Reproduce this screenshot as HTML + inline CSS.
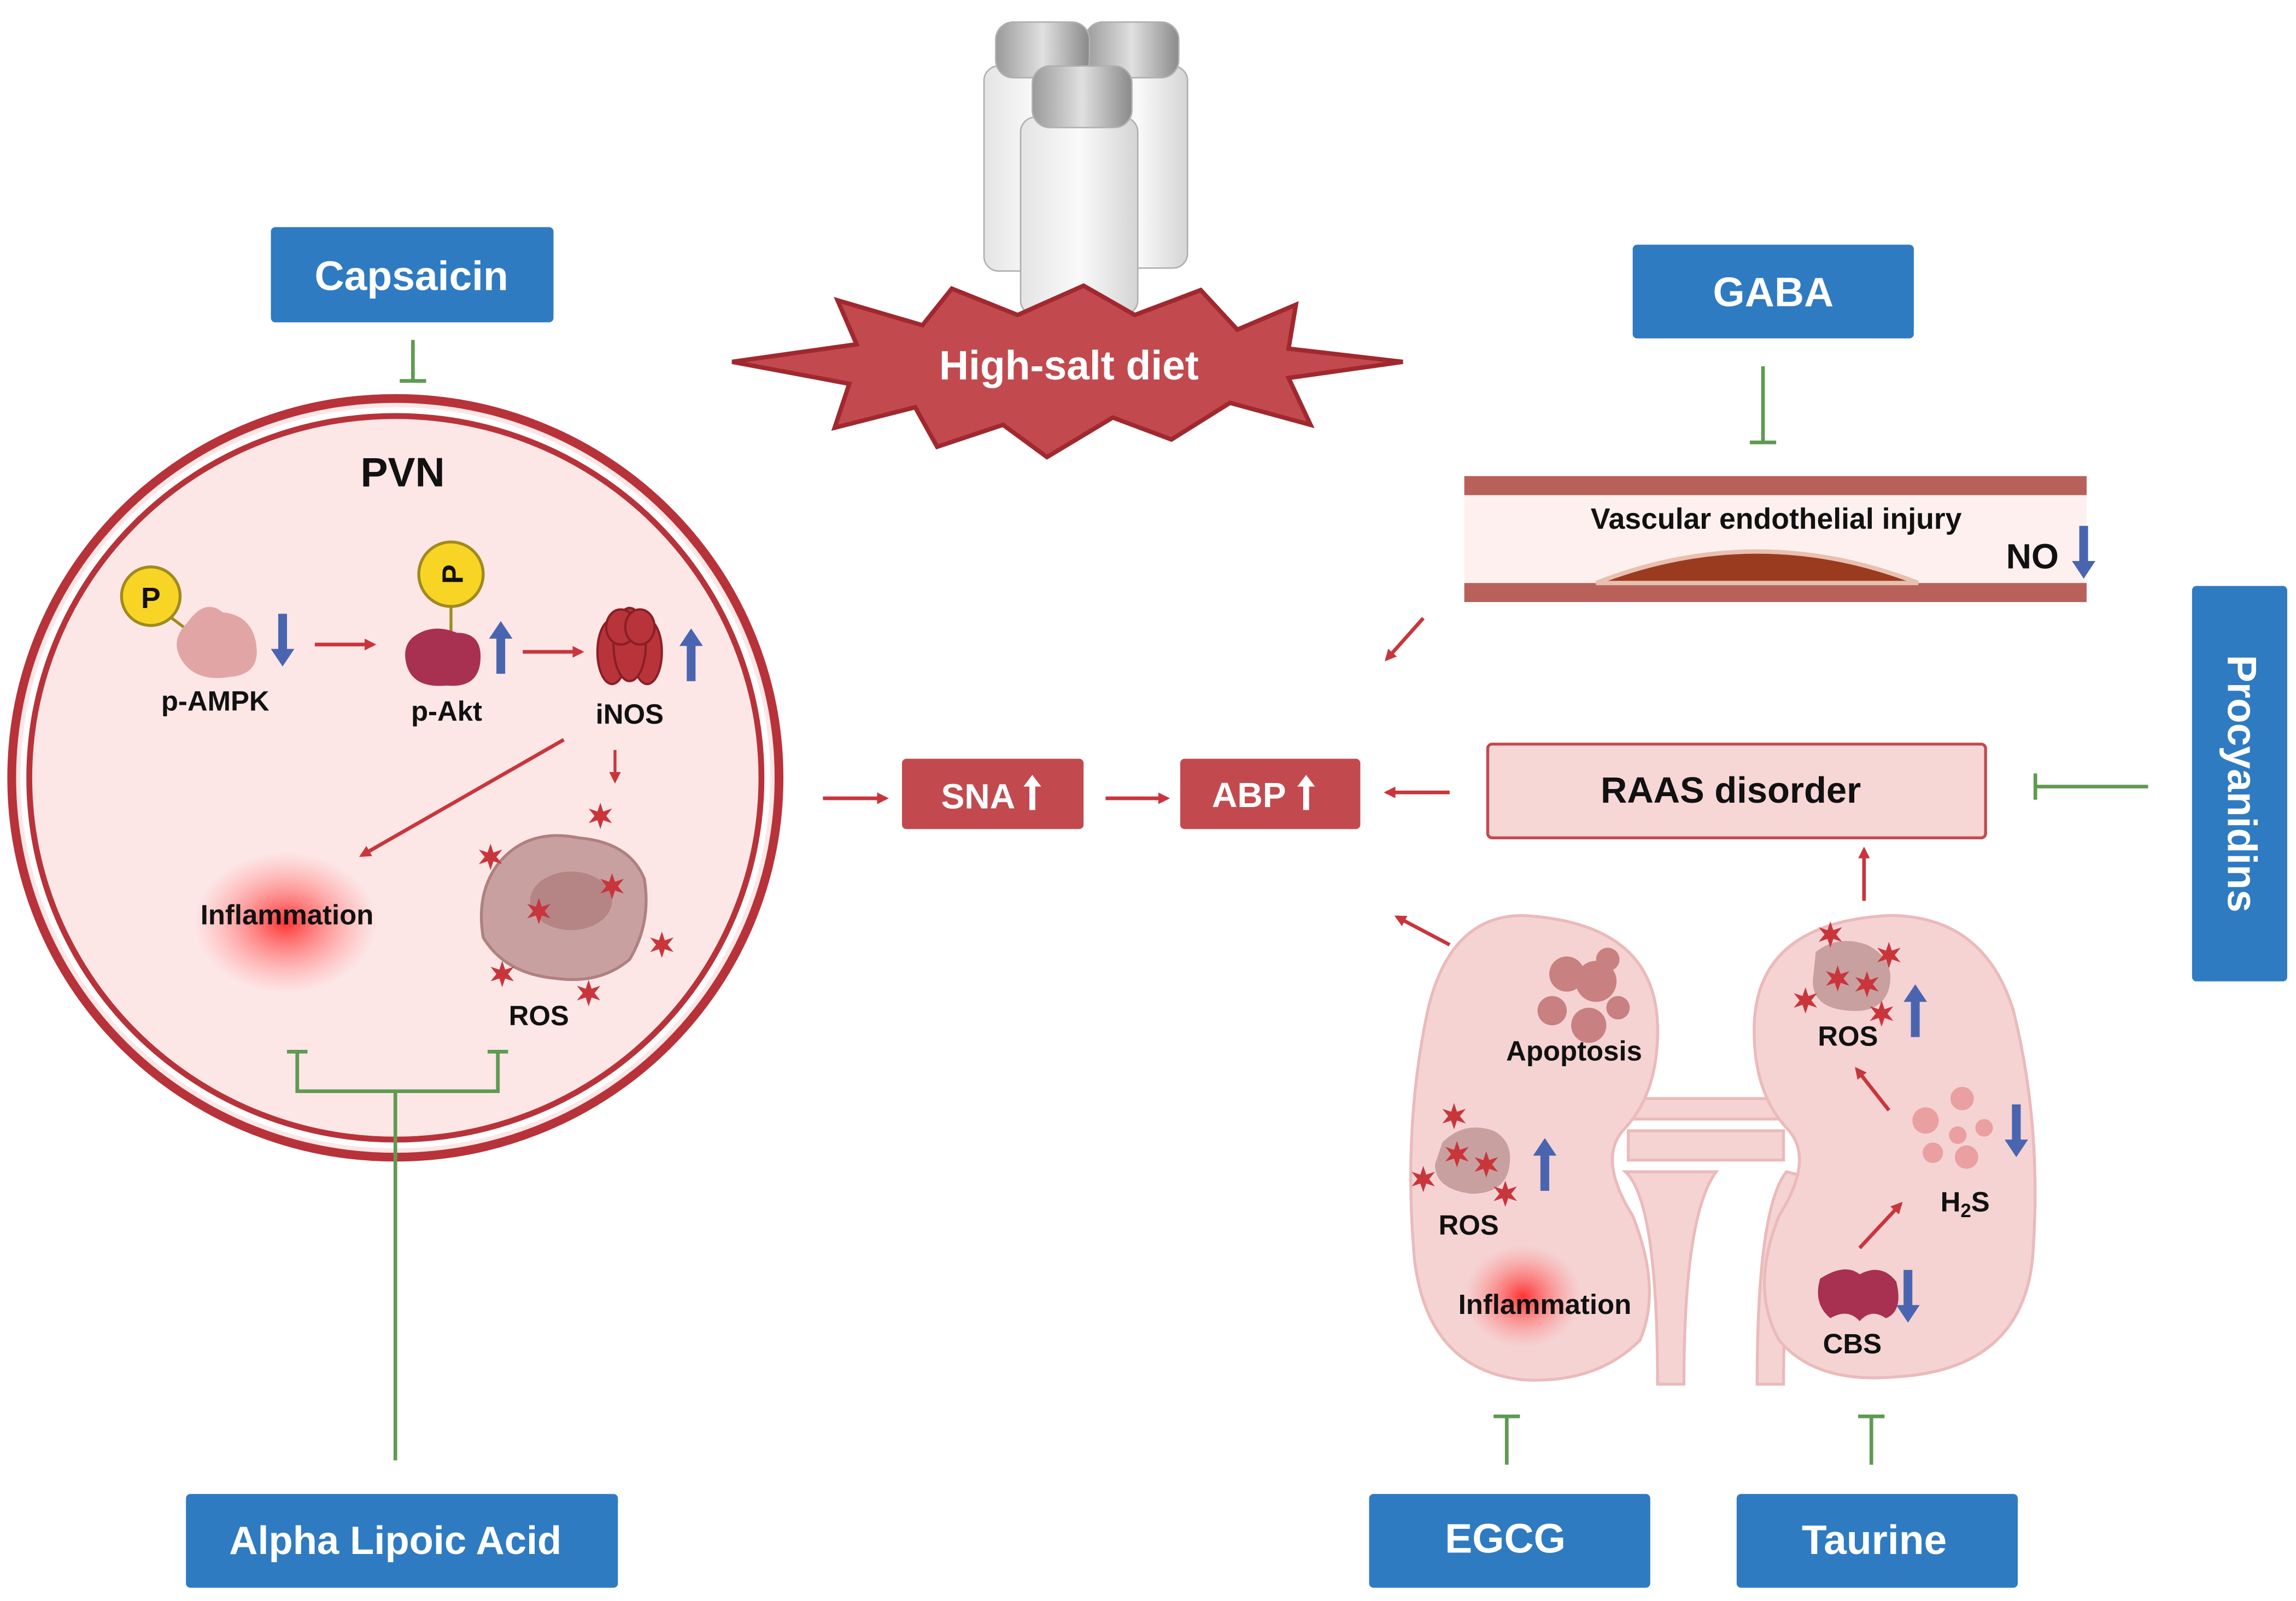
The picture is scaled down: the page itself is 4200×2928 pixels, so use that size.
<!DOCTYPE html>
<html><head><meta charset="utf-8"><style>html,body{margin:0;padding:0;background:#fff}svg{display:block}text{font-family:"Liberation Sans",Arial,sans-serif;font-weight:bold}</style></head>
<body>
<svg width="4200" height="2928" viewBox="0 0 1568 1093" xmlns="http://www.w3.org/2000/svg">
<defs>
<marker id="ra" markerWidth="8" markerHeight="8" refX="6" refY="4" orient="auto" markerUnits="userSpaceOnUse"><path d="M0,0 L8,4 L0,8 Z" fill="#c8363c"/></marker>
<radialGradient id="inf"><stop offset="0" stop-color="#ff2a2a" stop-opacity="0.95"/><stop offset="0.5" stop-color="#ff5a5a" stop-opacity="0.5"/><stop offset="1" stop-color="#ff8080" stop-opacity="0"/></radialGradient>
<linearGradient id="salt" x1="0" x2="1"><stop offset="0" stop-color="#e4e4e4"/><stop offset="0.5" stop-color="#fafafa"/><stop offset="1" stop-color="#d4d4d4"/></linearGradient>
<linearGradient id="cap" x1="0" x2="1"><stop offset="0" stop-color="#9a9a9a"/><stop offset="0.5" stop-color="#e0e0e0"/><stop offset="1" stop-color="#8a8a8a"/></linearGradient>
<g id="blu"><path d="M-3,-18 L3,-18 L3,6 L8,6 L0,18 L-8,6 L-3,6 Z" fill="#4a65b0"/></g>
<g id="star"><path d="M0,-9 L2,-3 L8,-5 L4,0 L8,5 L2,3 L0,9 L-2,3 L-8,5 L-4,0 L-8,-5 L-2,-3 Z" fill="#c8363c"/></g>
</defs>
<rect width="1568" height="1093" fill="#fff"/>

<!-- salt shakers -->
<g stroke="#b0b0b0" stroke-width="1">
<rect x="743" y="45" width="68" height="138" rx="10" fill="url(#salt)"/><rect x="741" y="15" width="64" height="38" rx="12" fill="url(#cap)"/>
<rect x="672" y="45" width="72" height="140" rx="10" fill="url(#salt)"/><rect x="680" y="15" width="64" height="38" rx="12" fill="url(#cap)"/>
<rect x="697" y="80" width="80" height="135" rx="10" fill="url(#salt)"/><rect x="705" y="45" width="68" height="42" rx="12" fill="url(#cap)"/>
</g>

<!-- starburst -->
<path d="M500,247 L585,235 L572,205 L630,222 L650,197 L695,215 L740,195 L775,215 L820,198 L845,225 L885,208 L880,238 L958,247 L880,258 L895,290 L840,275 L800,300 L760,285 L715,312 L685,290 L640,305 L625,278 L570,292 L580,262 Z" fill="#c24a4f" stroke="#a0282e" stroke-width="3"/>
<text x="730" y="259" font-size="28" fill="#fff" text-anchor="middle">High-salt diet</text>

<!-- Capsaicin -->
<rect x="185" y="155" width="193" height="65" rx="3" fill="#2f7bc2"/>
<text x="281" y="198" font-size="28" fill="#fff" text-anchor="middle">Capsaicin</text>
<g stroke="#5f9a52" stroke-width="2.5"><line x1="282" y1="232" x2="282" y2="260"/><line x1="273" y1="260" x2="291" y2="260"/></g>

<!-- PVN -->
<ellipse cx="270" cy="531" rx="262" ry="259" fill="#fde6e6" stroke="#b8323a" stroke-width="6"/>
<ellipse cx="270" cy="531" rx="254" ry="251" fill="none" stroke="#fff" stroke-width="4"/>
<ellipse cx="270" cy="531" rx="250" ry="247" fill="none" stroke="#b8323a" stroke-width="4"/>
<text x="275" y="332" font-size="28" fill="#111" text-anchor="middle">PVN</text>
<line x1="112" y1="418" x2="128" y2="430" stroke="#a08a1e" stroke-width="2"/>
<path d="M128,425 Q140,408 152,418 Q172,420 175,440 Q178,460 158,462 Q135,466 125,452 Q115,438 128,425 Z" fill="#e2a5a5"/>
<circle cx="103" cy="407" r="20" fill="#f8d425" stroke="#a08a1e" stroke-width="2"/>
<text x="103" y="415" font-size="20" text-anchor="middle" fill="#111">P</text>
<text x="147" y="485" font-size="19" text-anchor="middle" fill="#111">p-AMPK</text>
<use href="#blu" x="193" y="437"/>
<line x1="215" y1="440" x2="255" y2="440" stroke="#c8363c" stroke-width="2.5" marker-end="url(#ra)"/>
<line x1="308" y1="412" x2="308" y2="432" stroke="#a08a1e" stroke-width="2"/>
<path d="M282,435 Q295,425 312,432 Q330,432 328,452 Q326,470 305,468 Q283,470 278,455 Q274,442 282,435 Z" fill="#a83050"/>
<circle cx="308" cy="392" r="22" fill="#f8d425" stroke="#a08a1e" stroke-width="2"/>
<text x="308" y="400" font-size="20" text-anchor="middle" fill="#111" transform="rotate(-90 308 392)">P</text>
<text x="305" y="492" font-size="19" text-anchor="middle" fill="#111">p-Akt</text>
<use href="#blu" x="342" y="442" transform="rotate(180 342 442)"/>
<line x1="357" y1="445" x2="397" y2="445" stroke="#c8363c" stroke-width="2.5" marker-end="url(#ra)"/>
<g fill="#b8333a" stroke="#8a1e25" stroke-width="1.5"><ellipse cx="418" cy="445" rx="10" ry="22"/><ellipse cx="442" cy="445" rx="10" ry="22"/><ellipse cx="430" cy="440" rx="11" ry="25"/><ellipse cx="424" cy="428" rx="10" ry="12"/><ellipse cx="437" cy="428" rx="10" ry="12"/></g>
<text x="430" y="494" font-size="19" text-anchor="middle" fill="#111">iNOS</text>
<use href="#blu" x="472" y="447" transform="rotate(180 472 447)"/>
<line x1="420" y1="512" x2="420" y2="533" stroke="#c8363c" stroke-width="2" marker-end="url(#ra)"/>
<line x1="385" y1="505" x2="247" y2="584" stroke="#c8363c" stroke-width="2.5" marker-end="url(#ra)"/>
<ellipse cx="195" cy="630" rx="62" ry="48" fill="url(#inf)"/>
<text x="196" y="631" font-size="19" text-anchor="middle" fill="#111">Inflammation</text>
<path d="M340,590 Q360,565 395,572 Q430,575 440,600 Q445,630 430,655 Q410,672 380,668 Q345,665 330,640 Q325,610 340,590 Z" fill="#c9a0a0" stroke="#b08080" stroke-width="2"/>
<ellipse cx="390" cy="615" rx="28" ry="20" fill="#b58585"/>
<use href="#star" x="368" y="622"/><use href="#star" x="418" y="605"/><use href="#star" x="410" y="557"/><use href="#star" x="335" y="585"/><use href="#star" x="452" y="645"/><use href="#star" x="343" y="665"/><use href="#star" x="402" y="678"/>
<text x="368" y="700" font-size="19" text-anchor="middle" fill="#111">ROS</text>
<g stroke="#5f9a52" stroke-width="2.5" fill="none"><path d="M203,718 L203,745 L340,745 L340,718"/><line x1="196" y1="718" x2="210" y2="718"/><line x1="333" y1="718" x2="347" y2="718"/><line x1="270" y1="745" x2="270" y2="997"/></g>
<rect x="127" y="1020" width="295" height="64" rx="3" fill="#2f7bc2"/>
<text x="270" y="1061" font-size="27" fill="#fff" text-anchor="middle">Alpha Lipoic Acid</text>

<!-- SNA / ABP -->
<line x1="562" y1="545" x2="605" y2="545" stroke="#c8363c" stroke-width="2.5" marker-end="url(#ra)"/>
<rect x="616" y="518" width="124" height="48" rx="3" fill="#c24a4f"/>
<text x="668" y="552" font-size="24" fill="#fff" text-anchor="middle">SNA</text><path d="M703,553 L703,537 L699,537 L705,529 L711,537 L707,537 L707,553 Z" fill="#fff"/>
<line x1="755" y1="545" x2="797" y2="545" stroke="#c8363c" stroke-width="2.5" marker-end="url(#ra)"/>
<rect x="806" y="518" width="123" height="48" rx="3" fill="#c24a4f"/>
<text x="853" y="551" font-size="24" fill="#fff" text-anchor="middle">ABP</text><path d="M890,553 L890,537 L886,537 L892,529 L898,537 L894,537 L894,553 Z" fill="#fff"/>
<line x1="990" y1="541" x2="947" y2="541" stroke="#c8363c" stroke-width="2.5" marker-end="url(#ra)"/>
<line x1="972" y1="422" x2="947" y2="450" stroke="#c8363c" stroke-width="2.5" marker-end="url(#ra)"/>
<line x1="990" y1="645" x2="954" y2="626" stroke="#c8363c" stroke-width="2.5" marker-end="url(#ra)"/>

<!-- GABA -->
<rect x="1115" y="167" width="192" height="64" rx="3" fill="#2f7bc2"/>
<text x="1211" y="209" font-size="28" fill="#fff" text-anchor="middle">GABA</text>
<g stroke="#5f9a52" stroke-width="2.5"><line x1="1204" y1="250" x2="1204" y2="302"/><line x1="1195" y1="302" x2="1213" y2="302"/></g>
<rect x="1000" y="325" width="425" height="13" fill="#b8605a"/>
<rect x="1000" y="338" width="425" height="60" fill="#fdf0ee"/>
<rect x="1000" y="398" width="425" height="13" fill="#b8605a"/>
<path d="M1090,398 Q1200,355 1310,398 Z" fill="#9a3b20" stroke="#e8c0b0" stroke-width="3"/>
<text x="1213" y="361" font-size="20" text-anchor="middle" fill="#111">Vascular endothelial injury</text>
<text x="1388" y="388" font-size="24" text-anchor="middle" fill="#111">NO</text>
<use href="#blu" x="1423" y="377"/>

<!-- RAAS -->
<rect x="1016" y="508" width="340" height="64" rx="3" fill="#f7d6d6" stroke="#c24a4f" stroke-width="2"/>
<text x="1182" y="548" font-size="25" text-anchor="middle" fill="#111">RAAS disorder</text>
<line x1="1273" y1="615" x2="1273" y2="580" stroke="#c8363c" stroke-width="2.5" marker-end="url(#ra)"/>
<rect x="1497" y="400" width="65" height="270" rx="3" fill="#2f7bc2"/>
<text x="1529" y="535" font-size="28" fill="#fff" text-anchor="middle" dominant-baseline="middle" transform="rotate(90 1529 535)">Procyanidins</text>
<g stroke="#5f9a52" stroke-width="2.5"><line x1="1467" y1="537" x2="1390" y2="537"/><line x1="1390" y1="528" x2="1390" y2="546"/></g>

<!-- kidneys -->
<g fill="#f5d3d3" stroke="#ebbaba" stroke-width="2">
<rect x="1110" y="750" width="110" height="14"/>
<rect x="1112" y="772" width="106" height="20"/>
<path d="M1110,800 Q1132,820 1132,945 L1150,945 Q1150,830 1172,800 Z"/>
<path d="M1220,800 Q1200,825 1200,945 L1218,945 Q1218,830 1240,805 Z"/>
<path d="M1040,625 Q1130,630 1132,700 Q1133,745 1110,770 Q1090,790 1115,830 Q1135,880 1120,915 Q1090,945 1040,942 Q975,935 966,860 Q958,770 975,690 Q990,625 1040,625 Z"/>
<path d="M1290,625 Q1200,630 1198,700 Q1197,745 1220,770 Q1240,790 1215,830 Q1195,880 1215,915 Q1240,945 1295,940 Q1380,935 1388,860 Q1395,770 1375,690 Q1355,625 1290,625 Z"/>
</g>
<g fill="#c98080"><circle cx="1070" cy="665" r="12"/><circle cx="1090" cy="670" r="14"/><circle cx="1060" cy="690" r="10"/><circle cx="1085" cy="700" r="12"/><circle cx="1098" cy="655" r="8"/><circle cx="1105" cy="688" r="8"/></g>
<text x="1075" y="724" font-size="19" text-anchor="middle" fill="#111">Apoptosis</text>
<path d="M985,780 Q1000,765 1020,772 Q1035,780 1030,800 Q1025,815 1005,815 Q980,812 980,795 Z" fill="#c9a0a0"/>
<use href="#star" x="995" y="788"/><use href="#star" x="1015" y="795"/><use href="#star" x="993" y="762"/><use href="#star" x="972" y="805"/><use href="#star" x="1028" y="815"/>
<use href="#blu" x="1055" y="795" transform="rotate(180 1055 795)"/>
<text x="1003" y="843" font-size="19" text-anchor="middle" fill="#111">ROS</text>
<ellipse cx="1040" cy="885" rx="40" ry="35" fill="url(#inf)"/>
<text x="1055" y="897" font-size="19" text-anchor="middle" fill="#111">Inflammation</text>
<path d="M1240,650 Q1255,638 1275,645 Q1295,655 1290,675 Q1285,692 1262,690 Q1238,688 1238,670 Z" fill="#c9a0a0"/>
<use href="#star" x="1255" y="668"/><use href="#star" x="1275" y="672"/><use href="#star" x="1250" y="638"/><use href="#star" x="1233" y="683"/><use href="#star" x="1290" y="652"/><use href="#star" x="1285" y="692"/>
<use href="#blu" x="1308" y="690" transform="rotate(180 1308 690)"/>
<text x="1262" y="714" font-size="19" text-anchor="middle" fill="#111">ROS</text>
<line x1="1290" y1="758" x2="1268" y2="730" stroke="#c8363c" stroke-width="2.5" marker-end="url(#ra)"/>
<g fill="#eaa0a0"><circle cx="1340" cy="750" r="8"/><circle cx="1315" cy="765" r="9"/><circle cx="1337" cy="775" r="6"/><circle cx="1355" cy="770" r="6"/><circle cx="1320" cy="787" r="7"/><circle cx="1343" cy="790" r="8"/></g>
<use href="#blu" x="1377" y="772"/>
<text x="1342" y="827" font-size="19" text-anchor="middle" fill="#111">H<tspan font-size="13" dy="4">2</tspan><tspan dy="-4">S</tspan></text>
<line x1="1270" y1="852" x2="1298" y2="822" stroke="#c8363c" stroke-width="2.5" marker-end="url(#ra)"/>
<path d="M1243,873 Q1260,862 1270,870 Q1285,862 1295,875 Q1300,895 1288,900 Q1278,893 1270,902 Q1262,893 1250,900 Q1238,890 1243,873 Z" fill="#a83050"/>
<use href="#blu" x="1303" y="885"/>
<text x="1265" y="924" font-size="19" text-anchor="middle" fill="#111">CBS</text>

<g stroke="#5f9a52" stroke-width="2.5"><line x1="1029" y1="967" x2="1029" y2="1000"/><line x1="1020" y1="967" x2="1038" y2="967"/><line x1="1278" y1="967" x2="1278" y2="1000"/><line x1="1269" y1="967" x2="1287" y2="967"/></g>
<rect x="935" y="1020" width="192" height="64" rx="3" fill="#2f7bc2"/>
<text x="1028" y="1060" font-size="28" fill="#fff" text-anchor="middle">EGCG</text>
<rect x="1186" y="1020" width="192" height="64" rx="3" fill="#2f7bc2"/>
<text x="1280" y="1061" font-size="28" fill="#fff" text-anchor="middle">Taurine</text>
</svg>
</body></html>
